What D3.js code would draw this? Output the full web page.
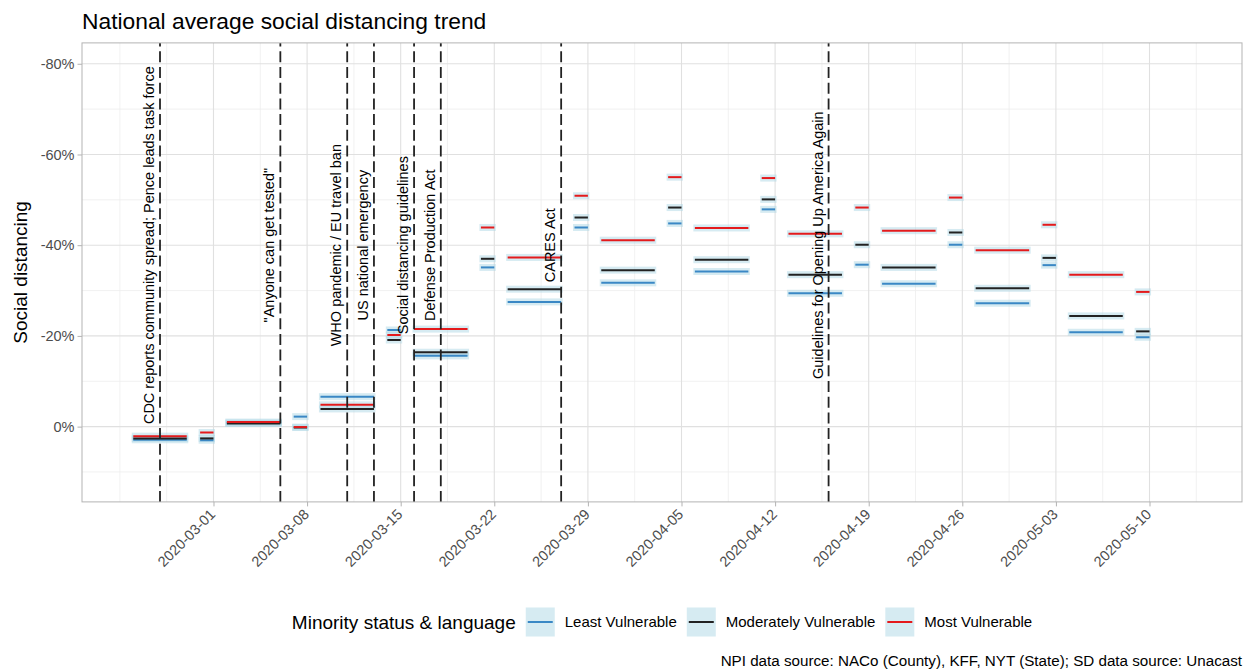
<!DOCTYPE html>
<html><head><meta charset="utf-8">
<script src="https://cdn.jsdelivr.net/npm/d3@7"></script>
<style>body{margin:0;background:#fff} text{font-family:"Liberation Sans",Arial,sans-serif}</style>
</head><body><svg id="c" width="1250" height="671"></svg>
<script>
// ---- data ----
const periodStart = ["2020-02-24","2020-02-29","2020-03-02","2020-03-07","2020-03-09","2020-03-14","2020-03-16","2020-03-21","2020-03-23","2020-03-28","2020-03-30","2020-04-04","2020-04-06","2020-04-11","2020-04-13","2020-04-18","2020-04-20","2020-04-25","2020-04-27","2020-05-02","2020-05-04","2020-05-09"];
const periodEnd   = ["2020-02-28","2020-03-01","2020-03-06","2020-03-08","2020-03-13","2020-03-15","2020-03-20","2020-03-22","2020-03-27","2020-03-29","2020-04-03","2020-04-05","2020-04-10","2020-04-12","2020-04-17","2020-04-19","2020-04-24","2020-04-26","2020-05-01","2020-05-03","2020-05-08","2020-05-10"];
const leastVulnerable      = [0.029,0.030,-0.008,-0.022,-0.066,-0.213,-0.156,-0.351,-0.275,-0.439,-0.317,-0.448,-0.342,-0.479,-0.294,-0.357,-0.315,-0.401,-0.272,-0.356,-0.208,-0.197];
const moderatelyVulnerable = [0.026,0.026,-0.007,0.002,-0.039,-0.191,-0.164,-0.370,-0.303,-0.461,-0.345,-0.483,-0.368,-0.501,-0.335,-0.401,-0.351,-0.428,-0.305,-0.372,-0.244,-0.210];
const mostVulnerable       = [0.021,0.013,-0.010,0.001,-0.048,-0.202,-0.215,-0.439,-0.373,-0.509,-0.411,-0.550,-0.438,-0.548,-0.425,-0.483,-0.432,-0.505,-0.389,-0.445,-0.335,-0.297];
const seriesNames  = ["Least Vulnerable","Moderately Vulnerable","Most Vulnerable"];
const seriesColors = ["#3a88c5","#222222","#e41a1c"];
const eventDates  = ["2020-02-26","2020-03-06","2020-03-11","2020-03-13","2020-03-16","2020-03-18","2020-03-27","2020-04-16"];
const eventLabels = ["CDC reports community spread; Pence leads task force","\"Anyone can get tested\"","WHO pandemic / EU travel ban","US national emergency","Social distancing guidelines","Defense Production Act","CARES Act","Guidelines for Opening Up America Again"];
const xTickDates  = ["2020-03-01","2020-03-08","2020-03-15","2020-03-22","2020-03-29","2020-04-05","2020-04-12","2020-04-19","2020-04-26","2020-05-03","2020-05-10"];
const yTickValues = [-0.8,-0.6,-0.4,-0.2,0];
const yTickLabels = ["-80%","-60%","-40%","-20%","0%"];
const xLimits = ["2020-02-20T04:00","2020-05-16T22:00"];
const yLimits = [-0.846,0.166];
const eventLabelY = -0.4;

// ---- setup ----
const svg = d3.select("#c");
const parse = d3.utcParse("%Y-%m-%d");
const parseT = d3.utcParse("%Y-%m-%dT%H:%M");
const L = 82, R = 1242, T = 42.9, B = 501.9;
const x = d3.scaleUtc().domain(xLimits.map(parseT)).range([L, R]);
const y = d3.scaleLinear().domain(yLimits).range([T, B]);

svg.append("rect").attr("width",1250).attr("height",671).attr("fill","#fff");

// grid
const xt = xTickDates.map(parse);
const xMinor = [];
xt.forEach((d,i)=>{ xMinor.push(d3.utcHour.offset(d,-84)); });
xMinor.push(d3.utcDay.offset(xt[0],-7));
xMinor.push(d3.utcHour.offset(xt[xt.length-1],84));
const [x0,x1] = x.domain();
const xMinorIn = xMinor.filter(d=>d>=x0 && d<=x1);
const yMinor = [];
yTickValues.forEach(v=>yMinor.push(v-0.1));
yMinor.push(yTickValues[yTickValues.length-1]+0.1);
const yMinorIn = yMinor.filter(v=>v>=yLimits[0] && v<=yLimits[1]);

const grid = svg.append("g");
grid.selectAll(".xm").data(xMinorIn).join("line").attr("x1",d=>x(d)).attr("x2",d=>x(d)).attr("y1",T).attr("y2",B).attr("stroke","#eeeeee").attr("stroke-width",0.8);
grid.selectAll(".ym").data(yMinorIn).join("line").attr("x1",L).attr("x2",R).attr("y1",d=>y(d)).attr("y2",d=>y(d)).attr("stroke","#eeeeee").attr("stroke-width",0.8);
grid.selectAll(".xM").data(xt).join("line").attr("x1",d=>x(d)).attr("x2",d=>x(d)).attr("y1",T).attr("y2",B).attr("stroke","#e0e0e0").attr("stroke-width",1.1);
grid.selectAll(".yM").data(yTickValues).join("line").attr("x1",L).attr("x2",R).attr("y1",d=>y(d)).attr("y2",d=>y(d)).attr("stroke","#e0e0e0").attr("stroke-width",1.1);

// segments data
const seriesVals = [leastVulnerable, moderatelyVulnerable, mostVulnerable];
const segs = [];
seriesVals.forEach((vals,si)=>vals.forEach((v,i)=>segs.push({s:si,x1:parse(periodStart[i]),x2:parse(periodEnd[i]),v})));

// halos
svg.append("g").selectAll("rect").data(segs).join("rect")
  .attr("x",d=>x(d.x1)-1.5).attr("width",d=>x(d.x2)-x(d.x1)+3)
  .attr("y",d=>y(d.v)-3.5).attr("height",7)
  .attr("fill","#add8e6").attr("fill-opacity",0.5);
// lines
svg.append("g").selectAll("line").data(segs).join("line")
  .attr("x1",d=>x(d.x1)).attr("x2",d=>x(d.x2)).attr("y1",d=>y(d.v)).attr("y2",d=>y(d.v))
  .attr("stroke",d=>seriesColors[d.s]).attr("stroke-width",2);

// event lines
const ev = eventDates.map(parse);
svg.append("g").selectAll("line").data(ev).join("line")
  .attr("x1",d=>x(d)).attr("x2",d=>x(d)).attr("y1",B).attr("y2",T)
  .attr("stroke","#222").attr("stroke-width",1.8).attr("stroke-dasharray","11,4.7");
svg.append("g").selectAll("text").data(ev).join("text")
  .attr("transform",d=>`translate(${x(d)-6},${y(eventLabelY)}) rotate(-90)`)
  .attr("text-anchor","middle").attr("font-size","14.5px").attr("fill","#000")
  .text((d,i)=>eventLabels[i]);

// panel border
svg.append("rect").attr("x",L).attr("y",T).attr("width",R-L).attr("height",B-T).attr("fill","none").attr("stroke","#b3b3b3").attr("stroke-width",1);

// axes
const gx = svg.append("g").attr("transform",`translate(0,${B})`)
  .call(d3.axisBottom(x).tickValues(xt).tickFormat(d3.utcFormat("%Y-%m-%d")).tickSize(4.5));
gx.select(".domain").remove();
gx.selectAll(".tick line").attr("stroke","#b3b3b3");
gx.selectAll(".tick text").attr("x",0).attr("y",0).attr("dy","0.71em")
  .attr("transform","translate(-5,6) rotate(-45)").attr("text-anchor","end")
  .attr("font-size","14.5px").attr("fill","#4d4d4d").attr("font-family",null);

const gy = svg.append("g").attr("transform",`translate(${L},0)`)
  .call(d3.axisLeft(y).tickValues(yTickValues).tickFormat((d,i)=>yTickLabels[i]).tickSize(4.5));
gy.select(".domain").remove();
gy.selectAll(".tick line").attr("stroke","#b3b3b3");
gy.selectAll(".tick text").attr("font-size","14.5px").attr("fill","#4d4d4d").attr("font-family",null);

// titles
svg.append("text").attr("x",82).attr("y",29).attr("font-size","22.8px").attr("fill","#000").text("National average social distancing trend");
svg.append("text").attr("transform",`translate(27,${(T+B)/2}) rotate(-90)`).attr("text-anchor","middle").attr("font-size","19px").attr("fill","#000").text("Social distancing");
svg.append("text").attr("x",1242).attr("y",666).attr("text-anchor","end").attr("font-size","15.2px").attr("fill","#000").text("NPI data source: NACo (County), KFF, NYT (State); SD data source: Unacast");

// legend
const lg = svg.append("g");
const ly = 622, ks = 29;
let cx = 0;
const lt = lg.append("text").attr("x",cx).attr("y",ly).attr("dy","0.35em").attr("font-size","19px").attr("fill","#000").text("Minority status & language");
cx += lt.node().getComputedTextLength() + 10;
seriesNames.forEach((n,i)=>{
  lg.append("rect").attr("x",cx).attr("y",ly-ks/2).attr("width",ks).attr("height",ks).attr("fill","#add8e6").attr("fill-opacity",0.5);
  lg.append("line").attr("x1",cx+2).attr("x2",cx+ks-2).attr("y1",ly).attr("y2",ly).attr("stroke",seriesColors[i]).attr("stroke-width",2);
  cx += ks + 10;
  const t = lg.append("text").attr("x",cx).attr("y",ly).attr("dy","0.35em").attr("font-size","15px").attr("fill","#000").text(n);
  cx += t.node().getComputedTextLength() + (i<seriesNames.length-1 ? 10 : 0);
});
lg.attr("transform",`translate(${(L+R)/2 - cx/2},0)`);
</script></body></html>
